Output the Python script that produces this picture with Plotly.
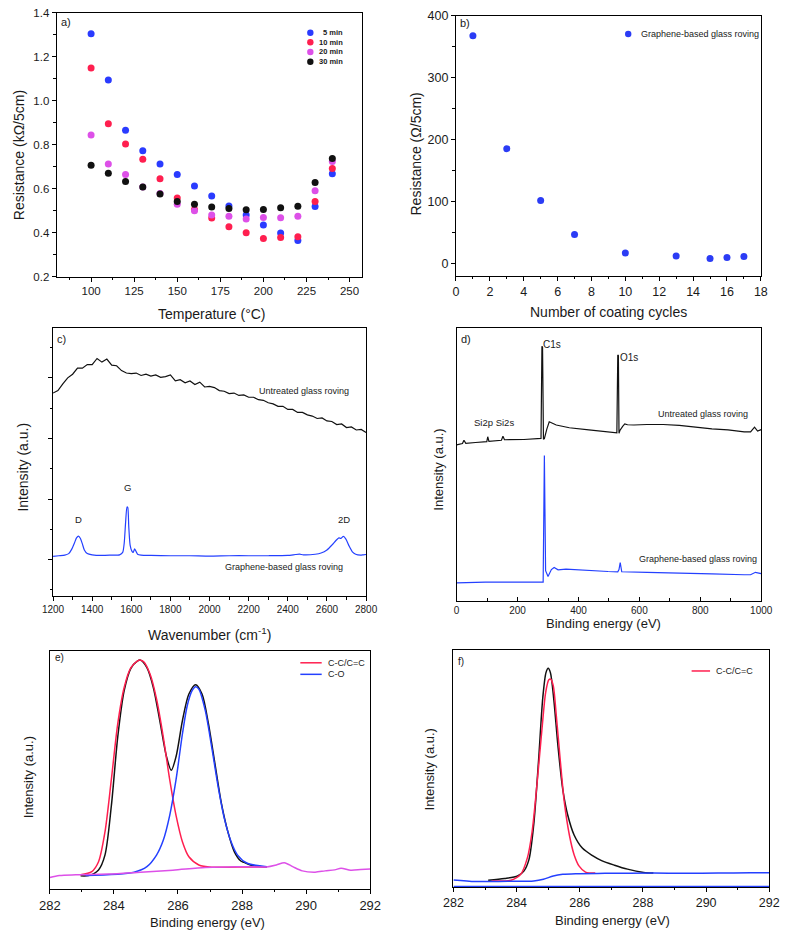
import plotly.graph_objects as go

W, H = 791, 939
FONT = "Liberation Sans, Arial, sans-serif"
INK = "#1a1a1a"

# ---- a) resistance vs temperature
temps = [100, 110, 120, 130, 140, 150, 160, 170, 180, 190, 200, 210, 220, 230, 240]
res_5min = [1.305, 1.095, 0.866, 0.773, 0.712, 0.664, 0.612, 0.567, 0.521, 0.480, 0.435, 0.398, 0.364, 0.519, 0.668]
res_10min = [1.149, 0.896, 0.803, 0.734, 0.645, 0.558, 0.505, 0.466, 0.427, 0.399, 0.373, 0.378, 0.381, 0.541, 0.692]
res_20min = [0.844, 0.712, 0.664, 0.607, 0.578, 0.529, 0.499, 0.480, 0.474, 0.462, 0.469, 0.468, 0.474, 0.591, 0.724]
res_30min = [0.707, 0.670, 0.633, 0.607, 0.576, 0.541, 0.529, 0.517, 0.510, 0.504, 0.505, 0.513, 0.520, 0.628, 0.737]
time_labels = ["5 min", "10 min", "20 min", "30 min"]

# ---- b) resistance vs coating cycles
cycles = [1, 3, 5, 7, 10, 13, 15, 16, 17]
res_cycles = [368, 185.6, 102, 46.8, 17, 12.2, 8, 9.6, 11.2]

# ---- c) Raman spectra
raman_x_untreated = [1200, 1225, 1250, 1275, 1300, 1325, 1350, 1375, 1400, 1425, 1450, 1475, 1500,
                     1525, 1550, 1575, 1600, 1625, 1650, 1675, 1700, 1725, 1750, 1775, 1800, 1825,
                     1850, 1875, 1900, 1925, 1950, 1975, 2000, 2025, 2050, 2075, 2100, 2125, 2150,
                     2175, 2200, 2225, 2250, 2275, 2300, 2325, 2350, 2375, 2400, 2425, 2450, 2475,
                     2500, 2525, 2550, 2575, 2600, 2625, 2650, 2675, 2700, 2725, 2750, 2775, 2800]
raman_y_untreated = [2.75, 2.79, 2.90, 3.00, 3.06, 3.16, 3.16, 3.22, 3.22, 3.32, 3.26, 3.31, 3.21,
                     3.20, 3.12, 3.08, 3.07, 3.08, 3.04, 3.06, 3.03, 3.05, 3.01, 3.02, 3.05, 2.95,
                     2.97, 2.92, 2.95, 2.89, 2.93, 2.85, 2.86, 2.84, 2.79, 2.78, 2.74, 2.75, 2.71,
                     2.72, 2.68, 2.68, 2.64, 2.63, 2.59, 2.57, 2.53, 2.53, 2.48, 2.48, 2.43, 2.43,
                     2.39, 2.37, 2.33, 2.34, 2.29, 2.28, 2.23, 2.24, 2.18, 2.19, 2.14, 2.15, 2.10]
raman_x_graphene = [1200, 1230, 1260, 1280, 1295, 1310, 1320, 1330, 1340, 1350, 1360, 1375, 1400,
                    1450, 1500, 1540, 1556, 1564, 1571, 1578, 1582, 1587, 1594, 1603, 1610, 1617,
                    1622, 1632, 1650, 1700, 1800, 1900, 2000, 2100, 2200, 2300, 2400, 2440, 2460,
                    2480, 2540, 2570, 2600, 2625, 2647, 2661, 2672, 2684, 2697, 2714, 2730, 2747,
                    2772, 2785, 2800]
raman_y_graphene = [0.055, 0.065, 0.075, 0.10, 0.17, 0.28, 0.36, 0.39, 0.35, 0.26, 0.16, 0.10, 0.08,
                    0.07, 0.075, 0.08, 0.12, 0.28, 0.62, 0.87, 0.86, 0.55, 0.24, 0.14, 0.12, 0.18,
                    0.15, 0.09, 0.075, 0.07, 0.065, 0.065, 0.06, 0.065, 0.065, 0.065, 0.07, 0.085, 0.09,
                    0.08, 0.09, 0.11, 0.16, 0.24, 0.32, 0.36, 0.35, 0.385, 0.34, 0.22, 0.13, 0.09,
                    0.075, 0.08, 0.085]

# ---- d) XPS survey
xps_x_untreated = [0, 19, 24, 30, 62, 99, 102, 106, 147, 152, 157, 221, 277, 280, 282, 285, 288,
                   296, 304, 327, 370, 434, 497, 526, 529, 531, 533, 536, 545, 552, 561, 582, 625,
                   678, 731, 784, 838, 891, 944, 965, 978, 988, 1000]
xps_y_untreated = [57.2, 57.7, 58.9, 57.8, 58.1, 58.4, 60.2, 58.5, 58.9, 60.4, 59.1, 59.2, 59.6, 93.4,
                   93.0, 59.3, 59.5, 63.0, 65.7, 64.5, 63.5, 62.7, 62.0, 61.6, 90.2, 90.0, 61.5,
                   62.5, 64.0, 64.9, 64.6, 64.5, 64.7, 64.7, 64.4, 63.7, 63.1, 62.7, 62.0, 62.0,
                   63.7, 62.3, 62.8]
xps_x_graphene = [0, 94, 200, 284, 288, 292, 300, 311, 320, 333, 359, 412, 497, 529, 533, 537, 540,
                  542, 625, 731, 838, 944, 965, 981, 997, 1000]
xps_y_graphene = [6.6, 6.9, 6.9, 6.9, 53.3, 11.1, 9.0, 11.5, 12.3, 11.4, 11.7, 11.3, 10.8, 10.7, 11.5,
                  14.1, 11.0, 10.7, 10.5, 10.1, 9.9, 9.6, 9.6, 10.5, 10.0, 10.0]

# ---- e) C1s, untreated
e_x_env = [282.96, 283.21, 283.52, 283.72, 283.92, 284.12, 284.32, 284.53, 284.73, 284.83, 285.03,
           285.23, 285.43, 285.64, 285.79, 285.94, 286.14, 286.34, 286.55, 286.75, 286.95, 287.15,
           287.35, 287.56, 287.76, 287.96, 288.06, 288.26, 288.77]
e_y_env = [13.3, 13.6, 19.3, 34.3, 84.3, 154.3, 201, 223.6, 231, 232, 224.3, 204.3, 171, 134.3,
           120.3, 134.3, 171, 197.6, 207, 197.6, 167.6, 127.6, 87.6, 57.6, 37.6, 28.3, 27, 24.3, 22]
e_x_cc = [282.96, 283.31, 283.52, 283.72, 283.92, 284.12, 284.32, 284.53, 284.73, 284.83, 284.93,
          285.13, 285.33, 285.54, 285.74, 285.94, 286.14, 286.34, 286.65, 287.05, 287.86, 288.77]
e_y_cc = [14.3, 17.6, 27.6, 57.6, 111, 167.6, 204.3, 224.3, 231, 232, 230.3, 217.6, 192.6, 154.3,
          111, 74.3, 47.6, 32.6, 24.3, 22, 22.3, 22.3]
e_x_co = [283.11, 284.63, 285.03, 285.33, 285.54, 285.74, 285.94, 286.14, 286.29, 286.44, 286.55,
          286.65, 286.85, 287.05, 287.25, 287.45, 287.66, 287.86, 288.16, 288.77]
e_y_co = [13.6, 17, 22.6, 34.3, 49.3, 74.3, 111, 157.6, 186, 201, 205, 202.6, 181, 144.3, 104.3,
          71, 47.6, 34.3, 26, 22.6]
e_x_bg = [282.0, 282.3, 282.81, 283.82, 284.83, 285.84, 286.85, 287.86, 288.77, 289.07, 289.32,
          289.58, 289.88, 290.28, 290.59, 290.89, 291.09, 291.39, 291.7, 292.0]
e_y_bg = [11.6, 13.6, 14.3, 15, 17, 19, 21.6, 22.6, 22.3, 24.3, 26.6, 22.6, 18.3, 17, 18.3, 19.3,
          21, 19, 19.6, 20.3]

# ---- f) C1s, graphene-based
f_x_env = [283.1, 283.62, 284.03, 284.23, 284.39, 284.54, 284.69, 284.83, 284.93, 285.0, 285.07,
           285.18, 285.31, 285.46, 285.62, 285.82, 286.08, 286.39, 286.69, 287.1, 287.51, 288.02, 288.33]
f_y_env = [6.3, 8, 10.6, 15.6, 27.3, 62.3, 125.6, 192.3, 217.3, 221.6, 217.3, 189, 142.3, 99, 72.3,
           52.3, 39, 31.6, 26.3, 21.6, 17.6, 14.3, 13.6]
f_x_cc = [283.21, 283.82, 284.13, 284.34, 284.49, 284.64, 284.8, 284.92, 285.02, 285.08, 285.16,
          285.26, 285.38, 285.51, 285.67, 285.82, 285.98, 286.18, 286.49]
f_y_cc = [5.6, 6.3, 12.3, 29, 55.6, 102.3, 159, 197.3, 210, 210.6, 204, 172.3, 129, 85.6, 52.3,
          32.3, 20.6, 14.6, 13.6]
f_x_bg = [282.0, 282.7, 283.72, 284.54, 284.85, 285.16, 285.46, 285.87, 286.8, 288.33, 289.36,
          290.38, 291.41, 292.0]
f_y_bg = [6.6, 5, 5.3, 5.6, 7.3, 10.6, 12.3, 13, 13.3, 13.6, 13.3, 13.6, 13.9, 13.9]
f_x_zero = [282, 292]
f_y_zero = [0, 0]

BLUE = "#2a3bff"
RED = "#ff1f4f"
MAGENTA = "#dd50e8"
BLACK = "#111111"
LBLUE = "#2440ff"


def px(x, y):
    return x / W, 1 - y / H


def dom_x(x0, x1):
    return [x0 / W, x1 / W]


def dom_y(y0, y1):
    return [1 - y1 / H, 1 - y0 / H]


fig = go.Figure()

# a)
for vals, col in zip([res_5min, res_10min, res_20min, res_30min], [BLUE, RED, MAGENTA, BLACK]):
    fig.add_trace(go.Scatter(x=temps, y=vals, mode="markers", xaxis="x", yaxis="y",
                             marker=dict(size=7, color=col), showlegend=False))
# b)
fig.add_trace(go.Scatter(x=cycles, y=res_cycles, mode="markers", xaxis="x2", yaxis="y2",
                         marker=dict(size=7, color="#2b3cf5"), showlegend=False))
# c)
fig.add_trace(go.Scatter(x=raman_x_untreated, y=raman_y_untreated, mode="lines", xaxis="x3", yaxis="y3",
                         line=dict(color=BLACK, width=1.2), showlegend=False))
fig.add_trace(go.Scatter(x=raman_x_graphene, y=raman_y_graphene, mode="lines", xaxis="x3", yaxis="y3",
                         line=dict(color=LBLUE, width=1.2, shape="spline", smoothing=0.6), showlegend=False))
# d)
fig.add_trace(go.Scatter(x=xps_x_untreated, y=xps_y_untreated, mode="lines", xaxis="x4", yaxis="y4",
                         line=dict(color=BLACK, width=1.2), showlegend=False))
fig.add_trace(go.Scatter(x=xps_x_graphene, y=xps_y_graphene, mode="lines", xaxis="x4", yaxis="y4",
                         line=dict(color=LBLUE, width=1.2), showlegend=False))
# e)
for xs, ys, col in [(e_x_env, e_y_env, BLACK), (e_x_cc, e_y_cc, RED), (e_x_co, e_y_co, LBLUE),
                    (e_x_bg, e_y_bg, MAGENTA)]:
    fig.add_trace(go.Scatter(x=xs, y=ys, mode="lines", xaxis="x5", yaxis="y5",
                             line=dict(color=col, width=1.5, shape="spline", smoothing=0.8),
                             showlegend=False))
# f)
for xs, ys, col in [(f_x_env, f_y_env, BLACK), (f_x_cc, f_y_cc, RED), (f_x_bg, f_y_bg, LBLUE),
                    (f_x_zero, f_y_zero, LBLUE)]:
    fig.add_trace(go.Scatter(x=xs, y=ys, mode="lines", xaxis="x6", yaxis="y6",
                             line=dict(color=col, width=1.5, shape="spline", smoothing=0.8),
                             showlegend=False))


def axis(domain, anchor, rng, tickfont, dtick=None, tick0=None, minor=None, ticks="outside",
         ticklen=4, labels=True, fmt=None):
    d = dict(domain=domain, anchor=anchor, range=rng, showline=True, linecolor="black",
             linewidth=1, mirror=True, showgrid=False, zeroline=False, ticks=ticks if dtick else "",
             ticklen=ticklen, tickcolor="black", tickwidth=1, showticklabels=labels and bool(dtick),
             tickfont=dict(size=tickfont, color=INK, family=FONT))
    if dtick:
        d["dtick"] = dtick
        d["tick0"] = tick0 if tick0 is not None else 0
    if minor:
        d["minor"] = dict(dtick=minor, ticks=ticks, ticklen=2.5, tickcolor="black", showgrid=False)
    if fmt:
        d["tickformat"] = fmt
    return d


layout = dict(
    width=W, height=H, margin=dict(l=0, r=0, t=0, b=0),
    paper_bgcolor="white", plot_bgcolor="white",
    font=dict(family=FONT, color=INK),
    xaxis=axis(dom_x(47, 362), "y", [80, 257.5], 11.5, 25, 0, 12.5),
    yaxis=axis(dom_y(6, 273.3), "x", [0.2, 1.4], 11.5, 0.2, 0.2, 0.1, fmt=".1f"),
    xaxis2=axis(dom_x(458.3, 772.3), "y2", [0, 18], 12.5, 2, 0, 1),
    yaxis2=axis(dom_y(9, 272.7), "x2", [-20, 400], 12.5, 100, 0, 50),
    xaxis3=axis(dom_x(43.3, 365.7), "y3", [1200, 2800], 10, 200, 0, 100),
    yaxis3=axis(dom_y(325.7, 597.3), "x3", [-0.6, 3.82], 10, 1, 0, 0.5, labels=False),
    xaxis4=axis(dom_x(459, 772.7), "y4", [0, 1000], 10, 200, 0, 100, ticks="inside"),
    yaxis4=axis(dom_y(325.7, 602.3), "x4", [0, 100], 10),
    xaxis5=axis(dom_x(40, 370), "y5", [282, 292], 13, 2, 0, 1),
    yaxis5=axis(dom_y(652.7, 894.3), "x5", [0, 241.6], 13),
    xaxis6=axis(dom_x(455.7, 781), "y6", [282, 292], 12.5, 2, 0, 1),
    yaxis6=axis(dom_y(652, 892.3), "x6", [-0.5, 240.3], 13),
)
fig.update_layout(**layout)
fig.update_layout(xaxis6=dict(layer="below traces"))

ann = []
shapes = []


def paper_text(text, x, y, size, xanchor="center", angle=0, bold=False):
    xx, yy = px(x, y)
    ann.append(dict(text=f"<b>{text}</b>" if bold else text, x=xx, y=yy, xref="paper", yref="paper",
                    showarrow=False, xanchor=xanchor, yanchor="middle", textangle=angle,
                    font=dict(size=size, color=INK, family=FONT)))


def data_text(text, x, y, ax, size, xanchor="center"):
    ann.append(dict(text=text, x=x, y=y, xref=ax[0], yref=ax[1], showarrow=False,
                    xanchor=xanchor, yanchor="middle", font=dict(size=size, color=INK, family=FONT)))


# panel letters
paper_text("a)", 49, 15, 11, "left")
paper_text("b)", 460, 16.7, 11, "left")
paper_text("c)", 45, 336.7, 11, "left")
paper_text("d)", 461.5, 337, 11, "left")
paper_text("e)", 43, 659.7, 10, "left")
paper_text("f)", 458, 664, 10, "left")

# axis titles
paper_text("Temperature (°C)", 206.7, 311.7, 14)
paper_text("Resistance (kΩ/5cm)", 8.5, 150, 14, angle=-90)
paper_text("Number of coating cycles", 615, 309, 14)
paper_text("Resistance (Ω/5cm)", 416.7, 149, 14, angle=-90)
paper_text("Wavenumber (cm<sup>-1</sup>)", 204, 636, 14)
paper_text("Intensity (a.u.)", 12.7, 466.7, 14, angle=-90)
paper_text("Binding energy (eV)", 610.7, 625, 13)
paper_text("Intensity (a.u.)", 440.7, 469.3, 13, angle=-90)
paper_text("Binding energy (eV)", 202, 928.3, 13)
paper_text("Intensity (a.u.)", 17.7, 781, 13, angle=-90)
paper_text("Binding energy (eV)", 620, 926.7, 13)
paper_text("Intensity (a.u.)", 431, 772.7, 13, angle=-90)

# legend a)
for i, (lab, col) in enumerate(zip(time_labels, [BLUE, RED, MAGENTA, BLACK])):
    yc = 26 + i * 9.8
    x0, y0 = px(308.3 - 3.3, yc + 3.3)
    x1, y1 = px(308.3 + 3.3, yc - 3.3)
    shapes.append(dict(type="circle", xref="paper", yref="paper", x0=x0, x1=x1, y0=y0, y1=y1,
                       fillcolor=col, line=dict(width=0)))
    paper_text(lab, 343.5, yc, 7.5, "right", bold=True)

# legend b)
x0, y0 = px(635.7 - 3.3, 27.3 + 3.3)
x1, y1 = px(635.7 + 3.3, 27.3 - 3.3)
shapes.append(dict(type="circle", xref="paper", yref="paper", x0=x0, x1=x1, y0=y0, y1=y1,
                   fillcolor="#2b3cf5", line=dict(width=0)))
paper_text("Graphene-based glass roving", 647, 27.3, 9, "left")

# legend e) and f)
for lab, col, xl0, xl1, yc in [("C-C/C=C", RED, 298, 320, 665), ("C-O", LBLUE, 298, 320, 676.7),
                               ("C-C/C=C", RED, 701, 720, 673.3)]:
    a0, b0 = px(xl0, yc)
    a1, b1 = px(xl1, yc)
    shapes.append(dict(type="line", xref="paper", yref="paper", x0=a0, x1=a1, y0=b0, y1=b1,
                       line=dict(color=col, width=1.5)))
    paper_text(lab, xl1 + 4, yc, 9, "left")

# c) labels
data_text("Untreated glass roving", 2482, 2.79, ("x3", "y3"), 9)
data_text("Graphene-based glass roving", 2383, -0.12, ("x3", "y3"), 9)
data_text("D", 1328, 0.66, ("x3", "y3"), 9.5)
data_text("G", 1582, 1.19, ("x3", "y3"), 9.5)
data_text("2D", 2686, 0.66, ("x3", "y3"), 9.5)

# d) labels
data_text("C1s", 314.6, 94.0, ("x4", "y4"), 10)
data_text("O1s", 566.5, 89.4, ("x4", "y4"), 10)
data_text("Si2p Si2s", 123, 65.3, ("x4", "y4"), 9.5)
data_text("Untreated glass roving", 808.7, 68.5, ("x4", "y4"), 9)
data_text("Graphene-based glass roving", 791.6, 15.5, ("x4", "y4"), 9)

fig.update_layout(annotations=ann, shapes=shapes)

# the page body has a default margin; drop it so the figure sits at the window origin
fig.write_html("out.html", config={"displayModeBar": False},
               post_script="document.body.style.margin='0';")
